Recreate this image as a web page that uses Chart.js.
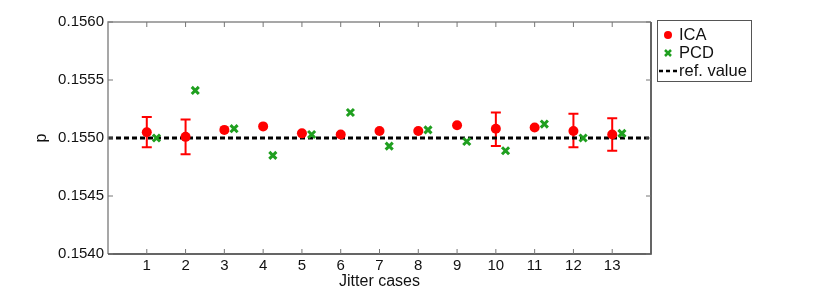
<!DOCTYPE html>
<html>
<head>
<meta charset="utf-8">
<script src="https://cdn.jsdelivr.net/npm/chart.js@4/dist/chart.umd.min.js"></script>
<style>
  body { margin: 0; background: #fff; }
  canvas { display: block; }
</style>
</head>
<body>
<canvas id="chart" width="830" height="290"></canvas>
<script>
const cases = [1, 2, 3, 4, 5, 6, 7, 8, 9, 10, 11, 12, 13];
const icaValues = [0.15505, 0.15501, 0.15507, 0.15510, 0.15504, 0.15503, 0.15506, 0.15506, 0.15511, 0.15508, 0.15509, 0.15506, 0.15503];
const icaLow = [0.15492, 0.15486, null, null, null, null, null, null, null, 0.15493, null, 0.15492, 0.15489];
const icaHigh = [0.15518, 0.15516, null, null, null, null, null, null, null, 0.15522, null, 0.15521, 0.15517];
const pcdValues = [0.15500, 0.15541, 0.15508, 0.15485, 0.15503, 0.15522, 0.15493, 0.15507, 0.15497, 0.15489, 0.15512, 0.15500, 0.15504];
const pcdOffset = 0.25;
const refValue = 0.1550;
const yTicks = [0.1540, 0.1545, 0.1550, 0.1555, 0.1560];

const FONT = '"Liberation Sans", Arial, sans-serif';
const RED = '#ff0000';
const GREEN = '#1f9f1f';

// frame, inward ticks, error bars, axis titles and boxed legend
const decorations = {
    id: 'decorations',
    beforeDatasetsDraw(chart) {
        const { ctx, scales: { x, y } } = chart;
        ctx.save();
        ctx.strokeStyle = RED;
        ctx.lineWidth = 2;
        cases.forEach((c, i) => {
            if (icaLow[i] == null) return;
            const px = x.getPixelForValue(c);
            const top = y.getPixelForValue(icaHigh[i]);
            const bot = y.getPixelForValue(icaLow[i]);
            ctx.beginPath();
            ctx.moveTo(px, top); ctx.lineTo(px, bot);
            ctx.moveTo(px - 5, top); ctx.lineTo(px + 5, top);
            ctx.moveTo(px - 5, bot); ctx.lineTo(px + 5, bot);
            ctx.stroke();
        });
        ctx.restore();
    },
    afterDraw(chart) {
        const { ctx, chartArea: a, scales: { x, y } } = chart;
        ctx.save();
        ctx.lineWidth = 1.5;
        ctx.strokeStyle = '#8a8a8a';
        ctx.beginPath();
        ctx.moveTo(a.left, a.bottom); ctx.lineTo(a.left, a.top); ctx.lineTo(a.right, a.top);
        ctx.stroke();
        ctx.strokeStyle = '#333';
        ctx.beginPath();
        ctx.moveTo(a.left, a.bottom); ctx.lineTo(a.right, a.bottom); ctx.lineTo(a.right, a.top);
        ctx.stroke();

        ctx.lineWidth = 1;
        ctx.strokeStyle = '#777';
        ctx.beginPath();
        cases.forEach(c => {
            const px = x.getPixelForValue(c);
            ctx.moveTo(px, a.bottom); ctx.lineTo(px, a.bottom - 5);
            ctx.moveTo(px, a.top); ctx.lineTo(px, a.top + 5);
        });
        yTicks.forEach(v => {
            const py = y.getPixelForValue(v);
            ctx.moveTo(a.left, py); ctx.lineTo(a.left + 5, py);
            ctx.moveTo(a.right, py); ctx.lineTo(a.right - 5, py);
        });
        ctx.stroke();

        ctx.fillStyle = '#111';
        ctx.font = '16px ' + FONT;
        ctx.textAlign = 'center';
        ctx.textBaseline = 'middle';
        ctx.fillText('Jitter cases', (a.left + a.right) / 2, 282);
        ctx.save();
        ctx.translate(42, (a.top + a.bottom) / 2);
        ctx.rotate(-Math.PI / 2);
        ctx.fillText('p', 0, 0);
        ctx.restore();

        // legend
        const lx = 657, ly = 20, lw = 94, lh = 61;
        ctx.fillStyle = '#fff';
        ctx.fillRect(lx, ly, lw, lh);
        ctx.strokeStyle = '#555';
        ctx.lineWidth = 1;
        ctx.strokeRect(lx + 0.5, ly + 0.5, lw, lh);
        ctx.textAlign = 'left';
        ctx.fillStyle = '#111';
        ctx.font = '16.5px ' + FONT;
        ctx.fillText('ICA', 679, 35);
        ctx.fillText('PCD', 679, 53);
        ctx.fillText('ref. value', 679, 71);
        ctx.fillStyle = RED;
        ctx.beginPath(); ctx.arc(668, 35, 4, 0, Math.PI * 2); ctx.fill();
        ctx.strokeStyle = GREEN;
        ctx.lineWidth = 2.5;
        ctx.beginPath();
        ctx.moveTo(665, 50); ctx.lineTo(671, 56);
        ctx.moveTo(671, 50); ctx.lineTo(665, 56);
        ctx.stroke();
        ctx.strokeStyle = '#000';
        ctx.lineWidth = 2.5;
        ctx.setLineDash([4, 3]);
        ctx.beginPath(); ctx.moveTo(659, 71); ctx.lineTo(678, 71); ctx.stroke();
        ctx.restore();
    }
};

new Chart(document.getElementById('chart'), {
    type: 'scatter',
    data: {
        datasets: [
            {
                label: 'ref. value',
                type: 'line',
                data: [{ x: 0, y: refValue }, { x: 14, y: refValue }],
                borderColor: '#000',
                borderWidth: 3,
                borderDash: [5, 3],
                pointRadius: 0,
                order: 3
            },
            {
                label: 'ICA',
                data: cases.map((c, i) => ({ x: c, y: icaValues[i] })),
                pointStyle: 'circle',
                pointRadius: 5,
                backgroundColor: RED,
                borderColor: RED,
                borderWidth: 0,
                order: 1
            },
            {
                label: 'PCD',
                data: cases.map((c, i) => ({ x: c + pcdOffset, y: pcdValues[i] })),
                pointStyle: 'crossRot',
                pointRadius: 5,
                borderColor: GREEN,
                borderWidth: 3,
                order: 2
            }
        ]
    },
    options: {
        responsive: false,
        animation: false,
        layout: { padding: { left: 0, right: 179, top: 22, bottom: 0 } },
        plugins: { legend: { display: false }, tooltip: { enabled: false } },
        scales: {
            x: {
                type: 'linear',
                min: 0,
                max: 14,
                afterFit: s => { s.height = 36; },
                afterBuildTicks: s => { s.ticks = cases.map(v => ({ value: v })); },
                ticks: { color: '#111', padding: 3, font: { family: FONT, size: 15 } },
                grid: { display: false, drawTicks: false },
                border: { display: false }
            },
            y: {
                min: 0.1540,
                max: 0.1560,
                afterFit: s => { s.width = 108; },
                afterBuildTicks: s => { s.ticks = yTicks.map(v => ({ value: v })); },
                ticks: { color: '#111', padding: 4, font: { family: FONT, size: 15 }, callback: v => v.toFixed(4) },
                grid: { display: false, drawTicks: false },
                border: { display: false }
            }
        }
    },
    plugins: [decorations]
});
</script>
</body>
</html>
